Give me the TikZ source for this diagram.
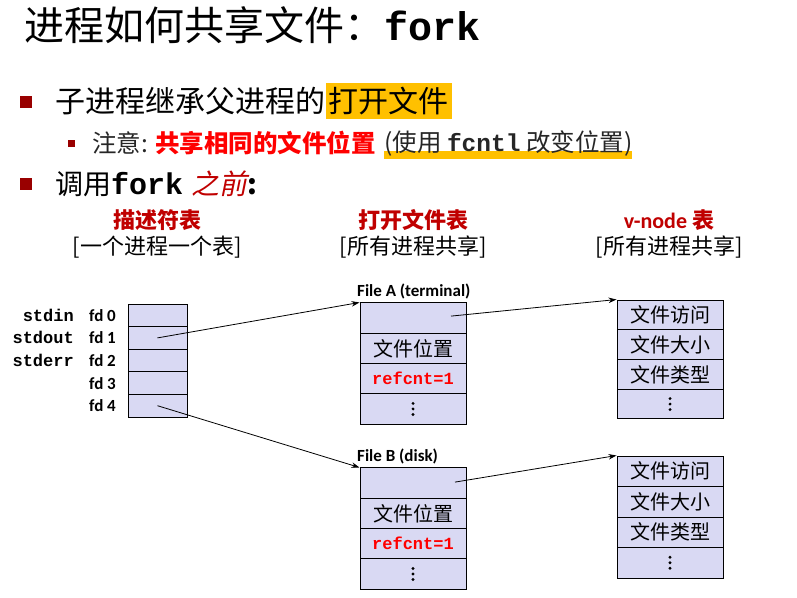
\documentclass[tikz,border=0pt]{standalone}
\usepackage{fontspec}
\setmainfont{Carlito}
\setmonofont{Liberation Mono}
\newfontfamily\cjk{Noto Sans CJK SC}
\newfontfamily\cjkit{Noto Sans CJK SC}[FakeSlant=0.2]
\usetikzlibrary{arrows.meta,calc,backgrounds}
\definecolor{cellfill}{HTML}{D9D9F3}
\definecolor{bul}{HTML}{990000}
\definecolor{hl}{HTML}{FFC000}
\definecolor{dred}{HTML}{C00000}
\definecolor{bred}{HTML}{FF0000}
\newcommand{\fsz}[1]{\fontsize{#1}{#1}\selectfont}
\newcommand{\celldots}[1]{%
  \fill (#1.center) circle (1.6pt);
  \fill ($(#1.center)+(0,-5.5)$) circle (1.6pt);
  \fill ($(#1.center)+(0,5.5)$) circle (1.6pt);}
\begin{document}
\begin{tikzpicture}[x=1pt,y=-1pt,
  base/.style={draw=black,line width=1pt,fill=cellfill,inner sep=0pt},
  cellD/.style={base,minimum width=59pt,minimum height=22.6pt},
  cellF/.style={base,minimum width=106pt,minimum height=30.25pt},
  cellV/.style={base,minimum width=106pt,minimum height=29.75pt},
  cellVB/.style={base,minimum width=106pt,minimum height=30.5pt},
  cjktxt/.style={font=\cjk\fsz{20}},
  reftxt/.style={font=\ttfamily\bfseries\fsz{17},text=bred},
  stdlab/.style={font=\ttfamily\bfseries\fsz{17},anchor=east,inner sep=0pt},
  fdlab/.style={font=\bfseries\fsz{17},anchor=west,inner sep=0pt},
  ftitle/.style={font=\bfseries\fsz{17},anchor=west,inner sep=0pt},
  headA/.style={font=\cjk\bfseries\fsz{22},text=dred,inner sep=0pt},
  headB/.style={font=\cjk\fsz{22},inner sep=0pt},
  bsq/.style={fill=bul},
  arr/.style={line width=0.8pt,-{Stealth[length=8pt,width=5.5pt]}}]
\useasboundingbox (0,0) rectangle (797,597);

% title
\node[anchor=west,inner sep=0pt,font=\cjk\fsz{40}] (title) at (24,25) {进程如何共享文件：{\ttfamily\bfseries fork}};

% bullet 1
\fill[bsq] (20,96) rectangle (32,108);
\node[anchor=west,inner sep=0pt,font=\cjk\fsz{30}] (b1) at (55,101) {子进程继承父进程的};
\node[anchor=west,inner xsep=3pt,inner ysep=4pt,fill=hl,font=\cjk\fsz{30}] (b1h) at (b1.east) {打开文件};

% sub bullet
\fill[bsq] (68,140) rectangle (75,147);
\node[anchor=west,inner sep=0pt,font=\cjk\fsz{24.5},text=black!85] (s1) at (92,143) {注意: \textcolor{bred}{\bfseries 共享相同的文件位置}};
\node[anchor=west,inner sep=0pt,font=\cjk\fsz{24.5},text=black!85] (s2) at ($(s1.east)+(8,0)$) {(使用 {\ttfamily\bfseries fcntl} 改变位置)};
\begin{scope}[on background layer]
\fill[hl] ($(s2.south west)+(0,-5)$) rectangle ($(s2.south east)+(0,3)$);
\end{scope}

% bullet 3
\fill[bsq] (20,178) rectangle (32,190);
\node[anchor=west,inner sep=0pt] (b3) at (55,184) {{\cjk\fsz{28}调用}{\ttfamily\bfseries\fsz{30}fork}\hspace{8pt}{\cjkit\fsz{28}\color{dred}之前}{\cjk\bfseries\fsz{28}:}};

% headers
\node[headA] (h1) at (157,220) {描述符表};
\node[headB] (h1b) at (157,247) {[一个进程一个表]};
\node[headA] (h2) at (413,220) {打开文件表};
\node[headB] (h2b) at (413,247) {[所有进程共享]};
\node[headA] (h3) at (669,220) {{\rmfamily v-node} 表};
\node[headB] (h3b) at (669,247) {[所有进程共享]};

% descriptor table
\node[cellD] (d0) at (157.5,315.3) {};
\node[cellD] (d1) at (157.5,337.9) {};
\node[cellD] (d2) at (157.5,360.5) {};
\node[cellD] (d3) at (157.5,383.1) {};
\node[cellD] (d4) at (157.5,405.7) {};

\node[stdlab] (l0) at (74,0 |- d0) {stdin};
\node[stdlab] (l1) at (74,0 |- d1) {stdout};
\node[stdlab] (l2) at (74,0 |- d2) {stderr};
\node[fdlab] (f0) at (89,0 |- d0) {fd 0};
\node[fdlab] (f1) at (89,0 |- d1) {fd 1};
\node[fdlab] (f2) at (89,0 |- d2) {fd 2};
\node[fdlab] (f3) at (89,0 |- d3) {fd 3};
\node[fdlab] (f4) at (89,0 |- d4) {fd 4};

% file A
\node[ftitle] (ta) at (357,291) {File A (terminal)};
\node[cellF] (fa1) at (413,318.1) {};
\node[cellF,cjktxt] (fa2) at (413,348.4) {文件位置};
\node[cellF,reftxt] (fa3) at (413,378.6) {refcnt=1};
\node[cellF] (fa4) at (413,408.9) {};
\celldots{fa4}

% file B
\node[ftitle] (tb) at (357,456) {File B (disk)};
\node[cellF] (fb1) at (413,483.1) {};
\node[cellF,cjktxt] (fb2) at (413,513.4) {文件位置};
\node[cellF,reftxt] (fb3) at (413,543.6) {refcnt=1};
\node[cellF] (fb4) at (413,573.9) {};
\celldots{fb4}

% v-node A
\node[cellV,cjktxt] (va1) at (670,314.9) {文件访问};
\node[cellV,cjktxt] (va2) at (670,344.6) {文件大小};
\node[cellV,cjktxt] (va3) at (670,374.4) {文件类型};
\node[cellV] (va4) at (670,404.1) {};
\celldots{va4}

% v-node B
\node[cellVB,cjktxt] (vb1) at (670,471.25) {文件访问};
\node[cellVB,cjktxt] (vb2) at (670,501.75) {文件大小};
\node[cellVB,cjktxt] (vb3) at (670,532.25) {文件类型};
\node[cellVB] (vb4) at (670,562.75) {};
\celldots{vb4}

% arrows
\coordinate (sa) at ($(fa1.center)+(38,-2)$);
\coordinate (sb) at ($(fb1.center)+(42,-1)$);
\draw[arr] (d1.center) -- (fa1.north west);
\draw[arr] (d4.center) -- (fb1.north west);
\draw[arr] (sa) -- (va1.north west);
\draw[arr] (sb) -- (vb1.north west);
\end{tikzpicture}
\end{document}
